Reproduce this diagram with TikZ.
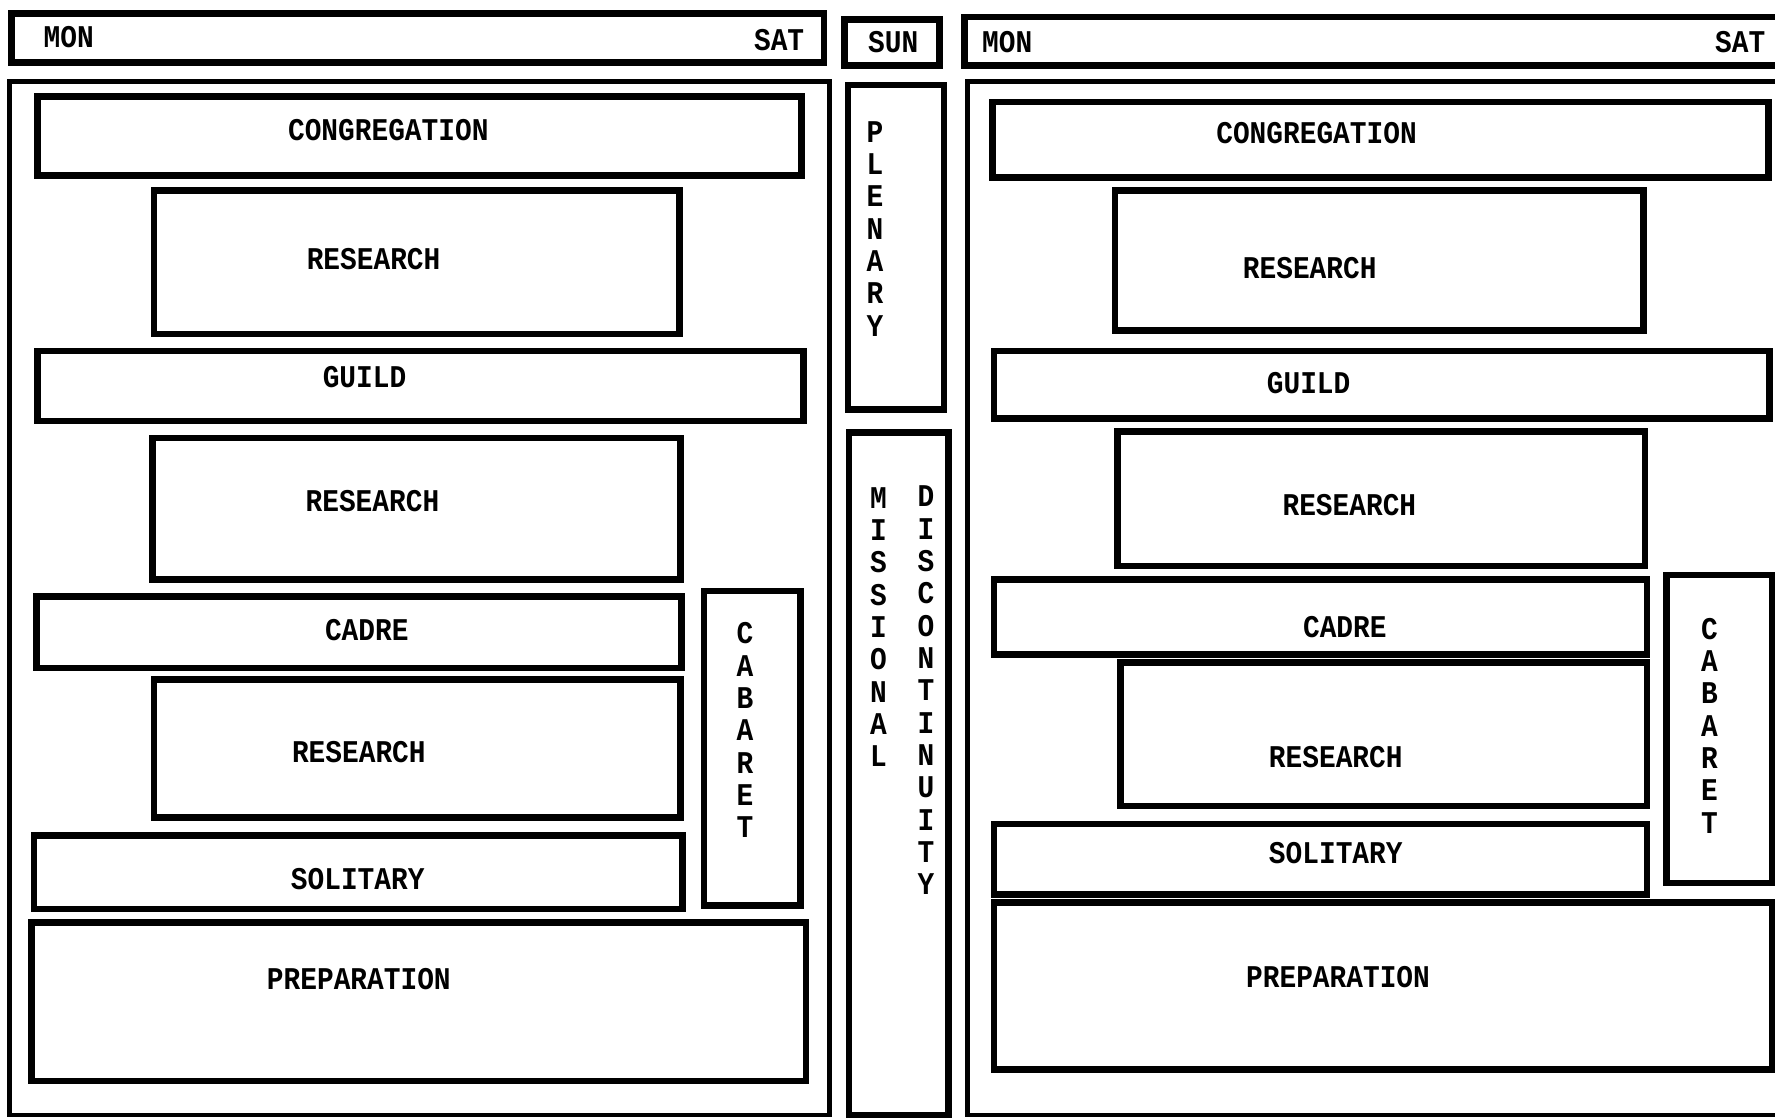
\documentclass[tikz,border=0pt]{standalone}
\usepackage{fontspec}
\setmonofont[FakeStretch=0.88]{Liberation Mono}
\usetikzlibrary{positioning}

\begin{document}
\begin{tikzpicture}[x=0.01132cm, y=-0.01132cm,
    frame/.style={line width=1.4pt},
    blk/.style={line width=1.9pt},
    lbl/.style={font=\ttfamily\bfseries\fontsize{9}{9.2}\selectfont, inner sep=0pt},
    vlbl/.style={lbl, align=center}]
    \useasboundingbox (0, 0) rectangle (1568, 988);

    % day headers
    \draw[blk] (10, 12) rectangle (728, 55);
    \node[lbl, anchor=west] (monL) at (38, 33) {MON};
    \node[lbl, anchor=east] (satL) at (711, 35) {SAT};
    \draw[blk] (746, 17) rectangle (830, 58);
    \node[lbl] (sun) at (789, 37) {SUN};
    \draw[blk] (852, 15) rectangle (1580, 58);
    \node[lbl, anchor=west] (monR) at (867, 37) {MON};
    \node[lbl, anchor=east] (satR) at (1560, 37) {SAT};

    % left week
    \draw[frame] (8, 72) rectangle (733, 985);
    \draw[blk] (33, 85) rectangle (708, 155);
    \node[lbl] (congL) at (343, 115) {CONGREGATION};
    \draw[blk] (136, 168) rectangle (600, 295);
    \node[lbl] (resL1) at (330, 229) {RESEARCH};
    \draw[blk] (33, 310) rectangle (710, 372);
    \node[lbl] (guildL) at (322, 333) {GUILD};
    \draw[blk] (135, 387) rectangle (601, 512);
    \node[lbl] (resL2) at (329, 443) {RESEARCH};
    \draw[blk] (32, 527) rectangle (602, 590);
    \node[lbl] (cadreL) at (324, 557) {CADRE};
    \draw[blk] (136, 600) rectangle (601, 722);
    \node[lbl] (resL3) at (317, 664) {RESEARCH};
    \draw[blk] (30, 738) rectangle (603, 803);
    \node[lbl] (solL) at (316, 777) {SOLITARY};
    \draw[blk] (28, 815) rectangle (712, 955);
    \node[lbl] (prepL) at (317, 865) {PREPARATION};
    \draw[blk] (622, 522) rectangle (707, 800);
    \node[vlbl] (cabL) at (658, 645) {C\\A\\B\\A\\R\\E\\T};

    % sunday
    \draw[blk] (749, 75) rectangle (834, 362);
    \node[vlbl] (plen) at (773, 202) {P\\L\\E\\N\\A\\R\\Y};
    \draw[blk] (750, 382) rectangle (838, 985);
    \node[vlbl] (miss) at (776, 554) {M\\I\\S\\S\\I\\O\\N\\A\\L};
    \node[vlbl] (disc) at (818, 610) {D\\I\\S\\C\\O\\N\\T\\I\\N\\U\\I\\T\\Y};

    % right week
    \draw[frame] (855, 72) rectangle (1580, 985);
    \draw[blk] (877, 90) rectangle (1562, 157);
    \node[lbl] (congR) at (1163, 118) {CONGREGATION};
    \draw[blk] (985, 168) rectangle (1452, 292);
    \node[lbl] (resR1) at (1157, 237) {RESEARCH};
    \draw[blk] (878, 310) rectangle (1563, 370);
    \node[lbl] (guildR) at (1156, 338) {GUILD};
    \draw[blk] (987, 381) rectangle (1453, 500);
    \node[lbl] (resR2) at (1192, 446) {RESEARCH};
    \draw[blk] (878, 512) rectangle (1455, 578);
    \node[lbl] (cadreR) at (1188, 554) {CADRE};
    \draw[blk] (990, 585) rectangle (1455, 712);
    \node[lbl] (resR3) at (1180, 669) {RESEARCH};
    \draw[blk] (878, 728) rectangle (1455, 790);
    \node[lbl] (solR) at (1180, 754) {SOLITARY};
    \draw[blk] (878, 797) rectangle (1566, 945);
    \node[lbl] (prepR) at (1182, 863) {PREPARATION};
    \draw[blk] (1472, 508) rectangle (1566, 780);
    \node[vlbl] (cabR) at (1510, 641) {C\\A\\B\\A\\R\\E\\T};
\end{tikzpicture}
\end{document}
